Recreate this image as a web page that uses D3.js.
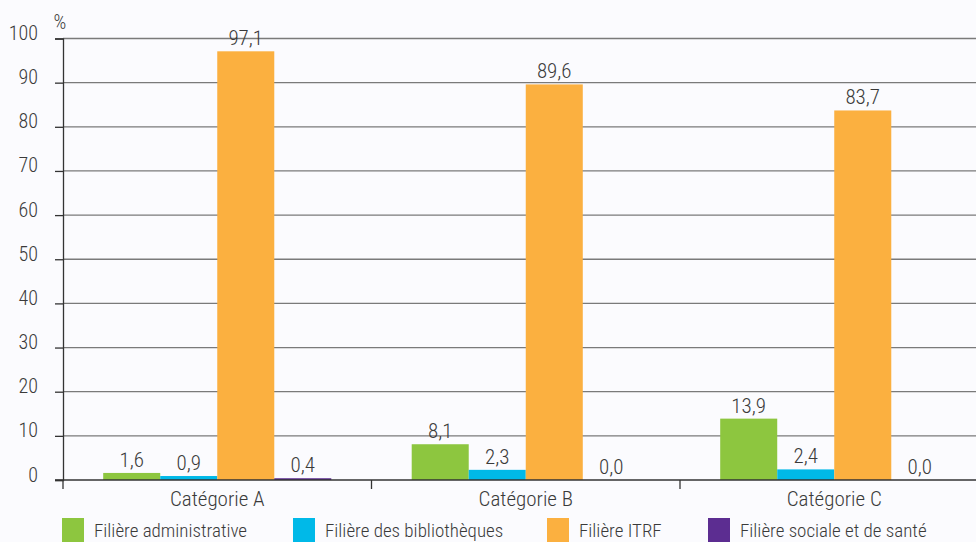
<!DOCTYPE html>
<html>
<head>
<meta charset="utf-8">
<script src="https://cdn.jsdelivr.net/npm/d3@7"></script>
<style>
  html, body { margin: 0; padding: 0; background: #fbfbfe; }
  svg { display: block; }
  text { font-family: "Roboto Condensed", "Liberation Sans Narrow", "Arial Narrow", Roboto, sans-serif; fill: #3a3a3a; font-weight: 300; }
</style>
</head>
<body>
<svg id="chart" width="976" height="542"></svg>
<script>
const categories = ["Catégorie A", "Catégorie B", "Catégorie C"];
const seriesNames = ["Filière administrative", "Filière des bibliothèques", "Filière ITRF", "Filière sociale et de santé"];
const administrative = [1.6, 8.1, 13.9];
const bibliotheques = [0.9, 2.3, 2.4];
const itrf = [97.1, 89.6, 83.7];
const sociale = [0.4, 0.0, 0.0];
const yTicks = [0, 10, 20, 30, 40, 50, 60, 70, 80, 90, 100];
const colors = ["#8dc63f", "#00b9e8", "#fbb040", "#5c2d91"];

const seriesValues = [administrative, bibliotheques, itrf, sociale];

const svg = d3.select("#chart");
const x0 = 63, x1 = 988.5, yBase = 480, yTop = 38.5;

const x = d3.scaleBand().domain(categories).range([x0, x1]).paddingInner(0).paddingOuter(0);
const xs = d3.scaleBand().domain(seriesNames).range([0, x.bandwidth()]).paddingInner(0).paddingOuter(0.705);
const y = d3.scaleLinear().domain([0, 100]).range([yBase, yTop]);

// gridlines
svg.append("g").selectAll("line").data(yTicks.filter(d => d > 0)).join("line")
  .attr("x1", x0).attr("x2", 976)
  .attr("y1", d => y(d)).attr("y2", d => y(d))
  .attr("stroke", "#7a7a7a").attr("stroke-width", 1.3);

// y axis
const yAxis = d3.axisLeft(y).tickValues(yTicks).tickSize(8).tickPadding(17).tickFormat(d3.format("d"));
const gy = svg.append("g").attr("transform", `translate(${x0},0)`).call(yAxis);
gy.select(".domain").attr("stroke", "#333").attr("stroke-width", 1.3);
gy.selectAll(".tick line").attr("stroke", "#333").attr("stroke-width", 1.3);
gy.selectAll(".tick text").attr("font-size", 20).attr("fill", "#3a3a3a").attr("dy", "0.05em");

svg.append("text").attr("x", 60).attr("y", 29).attr("text-anchor", "middle").attr("font-size", 20).text("%");

// bars
const rows = [];
categories.forEach((c, i) => seriesNames.forEach((s, j) => rows.push({ c, s, j, v: seriesValues[j][i] })));

svg.append("g").selectAll("rect").data(rows).join("rect")
  .attr("x", d => x(d.c) + xs(d.s))
  .attr("width", xs.bandwidth())
  .attr("y", d => y(d.v))
  .attr("height", d => yBase - y(d.v))
  .attr("fill", d => colors[d.j]);

svg.append("g").selectAll("text").data(rows).join("text")
  .attr("x", d => x(d.c) + xs(d.s) + xs.bandwidth() / 2)
  .attr("y", d => y(d.v) - 6)
  .attr("text-anchor", "middle")
  .attr("font-size", 21)
  .text(d => d3.format(".1f")(d.v).replace(".", ","));

// x axis
const xAxis = d3.axisBottom(x).tickSize(0).tickPadding(11);
const gx = svg.append("g").attr("transform", `translate(0,${yBase})`).call(xAxis);
gx.select(".domain").remove();
gx.selectAll(".tick text").attr("font-size", 21).attr("fill", "#3a3a3a");
svg.append("line").attr("x1", x0 - 8).attr("x2", 976).attr("y1", yBase).attr("y2", yBase)
  .attr("stroke", "#333").attr("stroke-width", 1.3);
svg.append("g").selectAll("line").data(categories.map(c => x(c)).concat([x1])).join("line")
  .attr("x1", d => d).attr("x2", d => d).attr("y1", yBase).attr("y2", yBase + 9)
  .attr("stroke", "#333").attr("stroke-width", 1.3);

// legend
const legendX = [62, 293, 547, 708];
const lg = svg.append("g").selectAll("g").data(seriesNames).join("g")
  .attr("transform", (d, i) => `translate(${legendX[i]},518)`);
lg.append("rect").attr("width", 22).attr("height", 24).attr("fill", (d, i) => colors[i]);
lg.append("text").attr("x", 32).attr("y", 19).attr("font-size", 19).text(d => d);
</script>
</body>
</html>
